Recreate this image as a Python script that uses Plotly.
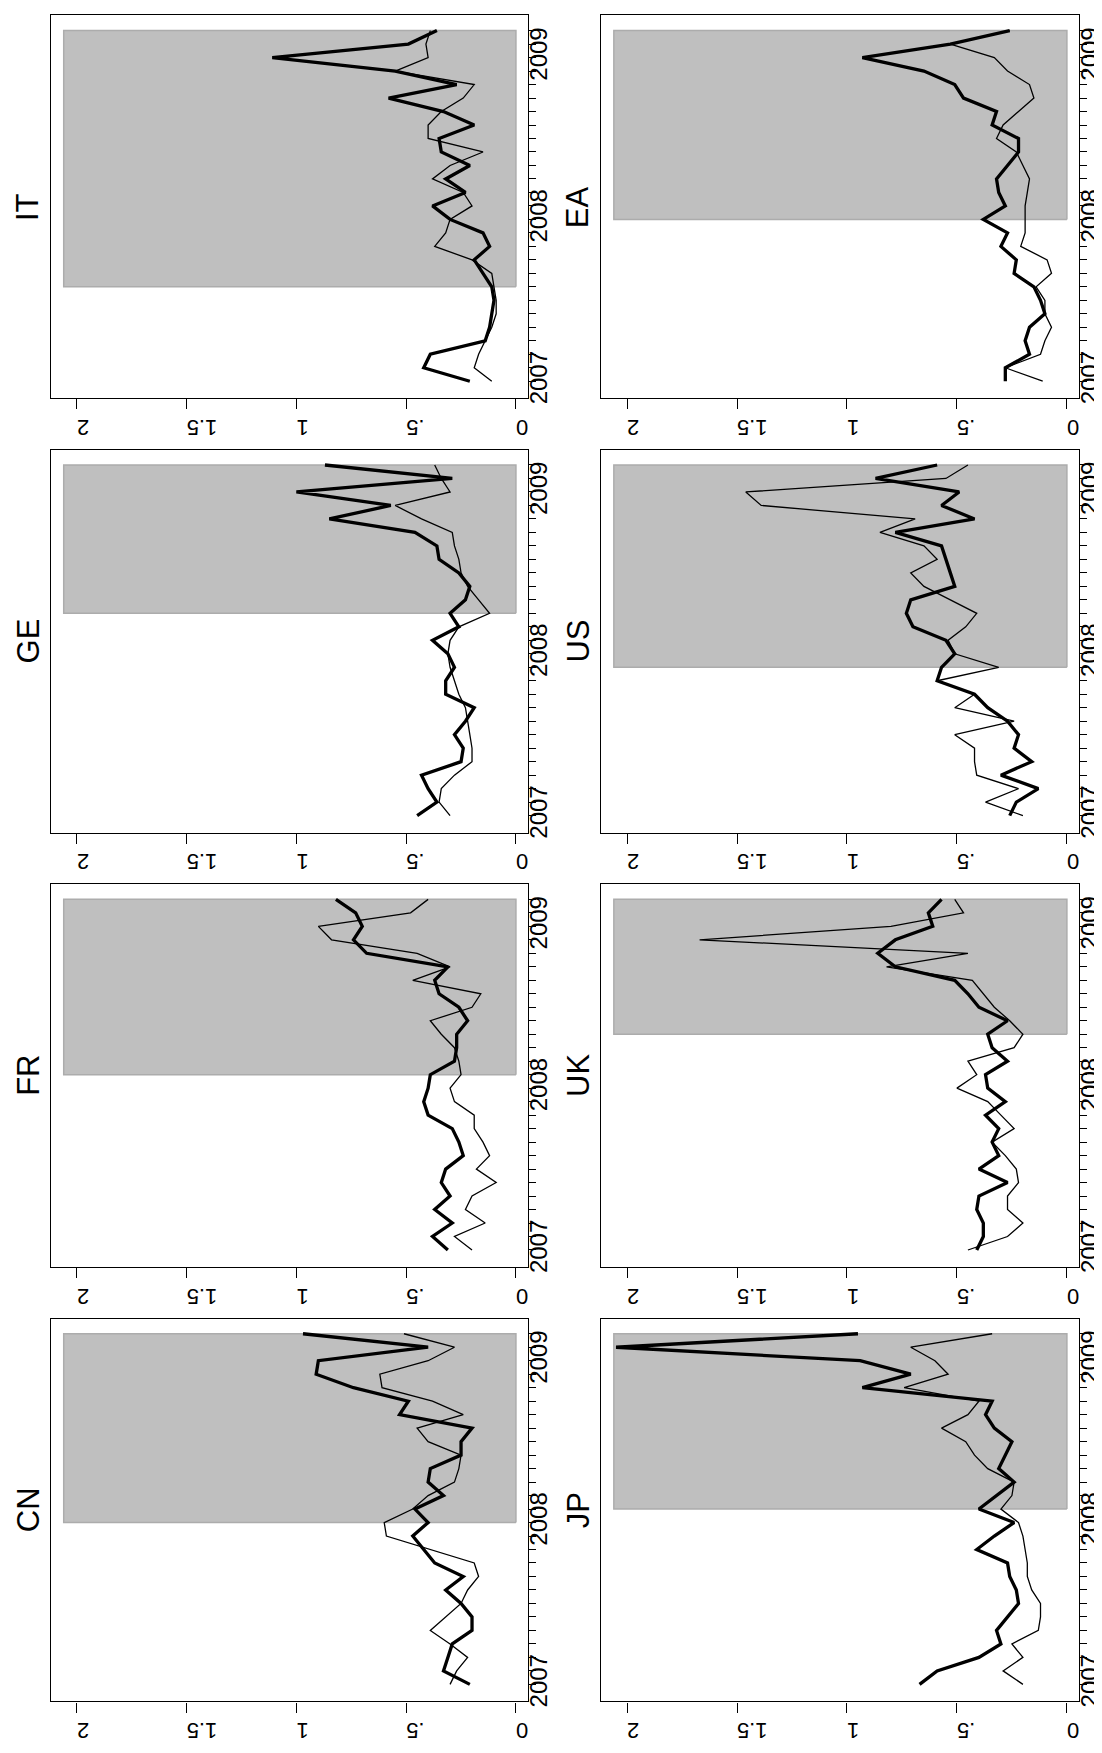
import plotly.graph_objects as go

# ---------------- data ----------------
months = list(range(27))            # monthly, 2007m1 .. 2009m3
year_ticks = [0, 12, 24]
year_labels = ["2007", "2008", "2009"]
value_ticks = [0, 0.5, 1, 1.5, 2]
value_labels = ["0", ".5", "1", "1.5", "2"]

countries = ["IT", "GE", "FR", "CN", "EA", "US", "UK", "JP"]
crisis_start = [7, 15, 13, 12, 12, 11, 16, 13]   # month index where shading starts
crisis_level = 2.06

cn_thick = [0.21, 0.33, 0.31, 0.29, 0.20, 0.20, 0.25, 0.32, 0.24, 0.37, 0.42, 0.47, 0.40, 0.46,
            0.33, 0.40, 0.39, 0.25, 0.25, 0.20, 0.53, 0.49, 0.74, 0.91, 0.90, 0.40, 0.97]
cn_thin = [0.30, 0.27, 0.22, 0.30, 0.39, 0.32, 0.25, 0.22, 0.17, 0.19, 0.39, 0.59, 0.60, 0.47,
           0.40, 0.28, 0.26, 0.25, 0.40, 0.45, 0.24, 0.38, 0.61, 0.62, 0.40, 0.28, 0.51]

jp_thick = [0.67, 0.59, 0.40, 0.30, 0.32, 0.27, 0.22, 0.23, 0.26, 0.27, 0.41, 0.33, 0.24, 0.40,
            0.32, 0.24, 0.31, 0.28, 0.25, 0.33, 0.37, 0.34, 0.93, 0.71, 0.94, 2.05, 0.95]
jp_thin = [0.20, 0.29, 0.20, 0.25, 0.13, 0.12, 0.12, 0.16, 0.18, 0.18, 0.19, 0.20, 0.22, 0.30,
           0.25, 0.24, 0.36, 0.42, 0.46, 0.57, 0.45, 0.40, 0.74, 0.54, 0.60, 0.71, 0.34]

fr_thick = [0.31, 0.38, 0.29, 0.37, 0.30, 0.34, 0.32, 0.24, 0.26, 0.29, 0.40, 0.42, 0.40, 0.39,
            0.28, 0.27, 0.27, 0.22, 0.26, 0.35, 0.37, 0.31, 0.68, 0.74, 0.70, 0.73, 0.82]
fr_thin = [0.20, 0.28, 0.14, 0.23, 0.20, 0.09, 0.18, 0.12, 0.15, 0.19, 0.19, 0.28, 0.30, 0.25,
           0.26, 0.28, 0.34, 0.39, 0.20, 0.16, 0.47, 0.30, 0.45, 0.84, 0.90, 0.48, 0.40]

uk_thick = [0.41, 0.38, 0.38, 0.41, 0.40, 0.27, 0.40, 0.31, 0.34, 0.31, 0.37, 0.28, 0.36, 0.37,
            0.27, 0.34, 0.36, 0.27, 0.40, 0.45, 0.51, 0.78, 0.86, 0.78, 0.61, 0.63, 0.57]
uk_thin = [0.45, 0.27, 0.20, 0.27, 0.27, 0.22, 0.23, 0.28, 0.34, 0.24, 0.30, 0.36, 0.50, 0.41,
           0.45, 0.24, 0.20, 0.26, 0.33, 0.38, 0.43, 0.82, 0.45, 1.67, 0.80, 0.47, 0.51]

ge_thick = [0.45, 0.36, 0.40, 0.43, 0.25, 0.24, 0.28, 0.23, 0.19, 0.32, 0.32, 0.28, 0.31, 0.38,
            0.26, 0.30, 0.23, 0.21, 0.26, 0.35, 0.36, 0.46, 0.85, 0.57, 1.00, 0.29, 0.87]
ge_thin = [0.30, 0.35, 0.34, 0.28, 0.20, 0.20, 0.21, 0.22, 0.23, 0.26, 0.28, 0.30, 0.31, 0.30,
           0.26, 0.12, 0.17, 0.22, 0.25, 0.26, 0.28, 0.29, 0.43, 0.55, 0.30, 0.34, 0.37]

us_thick = [0.26, 0.23, 0.13, 0.30, 0.16, 0.24, 0.22, 0.27, 0.36, 0.42, 0.59, 0.57, 0.51, 0.55,
            0.70, 0.73, 0.71, 0.51, 0.53, 0.55, 0.57, 0.78, 0.42, 0.57, 0.49, 0.87, 0.59]
us_thin = [0.20, 0.37, 0.22, 0.41, 0.42, 0.42, 0.51, 0.24, 0.51, 0.42, 0.59, 0.31, 0.51, 0.54,
           0.46, 0.41, 0.53, 0.65, 0.71, 0.59, 0.65, 0.85, 0.69, 1.39, 1.46, 0.55, 0.45]

it_thick = [0.21, 0.42, 0.39, 0.14, 0.12, 0.11, 0.10, 0.11, 0.15, 0.19, 0.12, 0.15, 0.30, 0.38,
            0.23, 0.32, 0.21, 0.34, 0.35, 0.19, 0.33, 0.58, 0.27, 0.55, 1.11, 0.49, 0.36]
it_thin = [0.11, 0.19, 0.17, 0.14, 0.11, 0.09, 0.09, 0.10, 0.11, 0.20, 0.37, 0.32, 0.30, 0.20,
           0.24, 0.38, 0.30, 0.15, 0.40, 0.40, 0.34, 0.24, 0.19, 0.55, 0.40, 0.41, 0.39]

ea_thick = [0.28, 0.28, 0.17, 0.19, 0.17, 0.10, 0.12, 0.15, 0.24, 0.23, 0.30, 0.27, 0.38, 0.28,
            0.31, 0.32, 0.27, 0.22, 0.22, 0.34, 0.32, 0.47, 0.51, 0.65, 0.93, 0.53, 0.26]
ea_thin = [0.11, 0.28, 0.12, 0.10, 0.07, 0.10, 0.10, 0.14, 0.07, 0.09, 0.21, 0.19, 0.19, 0.19,
           0.18, 0.17, 0.20, 0.23, 0.32, 0.29, 0.22, 0.15, 0.17, 0.27, 0.33, 0.53, 0.26]

thick_series = [it_thick, ge_thick, fr_thick, cn_thick, ea_thick, us_thick, uk_thick, jp_thick]
thin_series = [it_thin, ge_thin, fr_thin, cn_thin, ea_thin, us_thin, uk_thin, jp_thin]

# ---------------- layout geometry (pixels) ----------------
W, H = 1102, 1753
col_left = [43.2, 593.3]
col_right = [520.0, 1071.0]
row_bottom = [391.7 + 435.87 * k for k in range(4)]
box_h = 384.3
value_range = [2.117, -0.055]
time_range = [-1.27, 27.13]
label_shift = 6   # px the year-label axis sits left of the frame

FONT = "Liberation Sans, Arial, Helvetica, sans-serif"

fig = go.Figure()
layout = dict(
    width=W, height=H,
    margin=dict(l=0, r=0, t=0, b=0),
    paper_bgcolor="white", plot_bgcolor="white",
    showlegend=False,
    font=dict(family=FONT, color="black"),
    annotations=[],
)

npan = len(countries)
for i, name in enumerate(countries):
    col = i // 4
    row = i % 4
    n = i + 1
    m = n + npan   # overlay axis number for year labels
    xa = "x" if n == 1 else f"x{n}"
    ya = "y" if n == 1 else f"y{n}"
    yl = f"y{m}"
    x0 = col_left[col] / W
    x1 = col_right[col] / W
    yb = 1 - row_bottom[row] / H
    yt = 1 - (row_bottom[row] - box_h) / H

    s = crisis_start[i]
    e = months[-1]
    fig.add_trace(go.Scatter(
        x=[0, crisis_level, crisis_level, 0, 0],
        y=[s, s, e, e, s],
        mode="lines", fill="toself",
        fillcolor="rgb(191,191,191)",
        line=dict(color="rgb(172,172,172)", width=1.5),
        xaxis=xa, yaxis=ya, hoverinfo="skip"))
    fig.add_trace(go.Scatter(
        x=thin_series[i], y=months, mode="lines",
        line=dict(color="black", width=1.3),
        xaxis=xa, yaxis=ya))
    fig.add_trace(go.Scatter(
        x=thick_series[i], y=months, mode="lines",
        line=dict(color="black", width=3.3),
        xaxis=xa, yaxis=ya))
    # empty trace so the label axis belongs to a subplot
    fig.add_trace(go.Scatter(x=[], y=[], mode="lines", xaxis=xa, yaxis=yl,
                             hoverinfo="skip"))

    key_x = "xaxis" if n == 1 else f"xaxis{n}"
    key_y = "yaxis" if n == 1 else f"yaxis{n}"
    layout[key_x] = dict(
        domain=[x0, x1], anchor=ya, range=value_range,
        showline=True, linecolor="black", linewidth=1.2, mirror=True,
        ticks="outside", ticklen=10, tickwidth=1.2, tickcolor="black",
        tickvals=value_ticks, ticktext=value_labels, tickangle=180,
        tickfont=dict(size=22, family=FONT, color="black"),
        ticklabelstandoff=6,
        showgrid=False, zeroline=False, fixedrange=True)
    layout[key_y] = dict(
        domain=[yb, yt], anchor=xa, range=time_range, side="right",
        showline=True, linecolor="black", linewidth=1.2, mirror=True,
        ticks="outside", ticklen=7, tickwidth=1.2, tickcolor="black",
        tickvals=months, showticklabels=False,
        showgrid=False, zeroline=False, fixedrange=True)
    layout[f"yaxis{m}"] = dict(
        overlaying=ya, anchor="free", position=(col_right[col] - label_shift) / W,
        range=time_range, side="right",
        showline=False, ticks="", tickvals=year_ticks, ticktext=year_labels,
        tickangle=-90,
        tickfont=dict(size=24, family=FONT, color="black"),
        showgrid=False, zeroline=False, fixedrange=True)

    layout["annotations"].append(dict(
        text=name, textangle=-90, showarrow=False,
        xref="paper", yref="paper",
        x=(col_left[col] - 23) / W, y=(yb + yt) / 2,
        xanchor="center", yanchor="middle",
        font=dict(size=31, family=FONT, color="black")))

fig.update_layout(**layout)
fig.write_html("out.html")
